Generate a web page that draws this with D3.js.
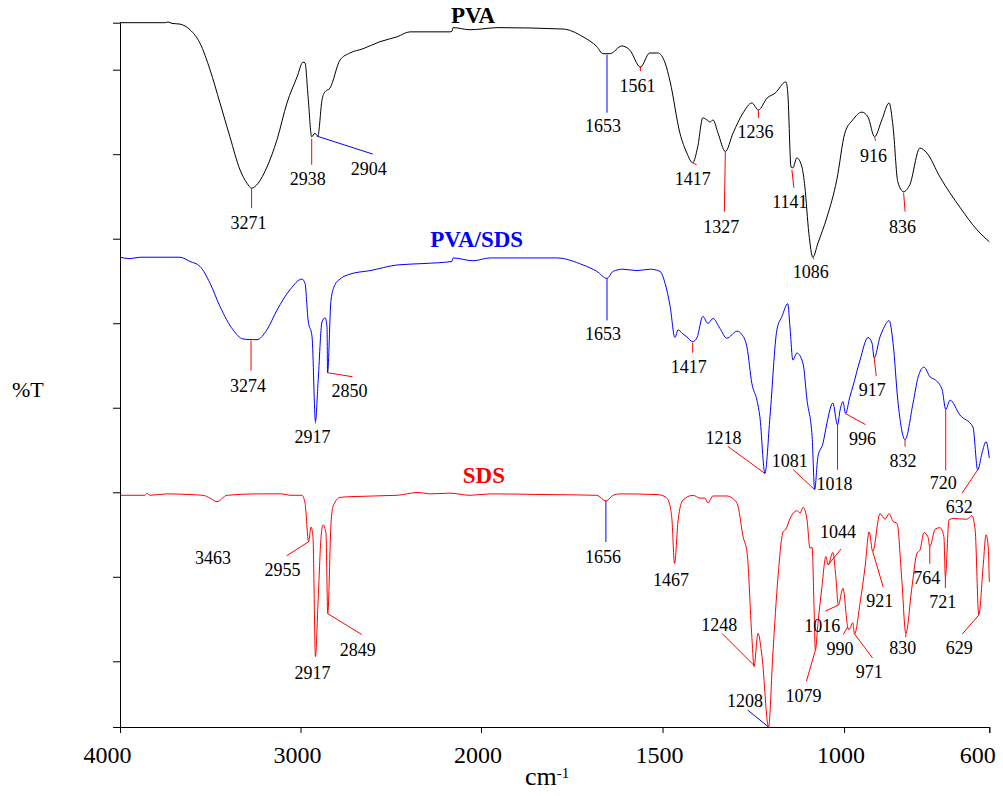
<!DOCTYPE html>
<html>
  <head>
    <meta charset="utf-8" />
    <title>FTIR spectra PVA, PVA/SDS, SDS</title>
    <script src="https://d3js.org/d3.v7.min.js"></script>
    <style>
        body{
            margin:0;
            background:#fff;
        }
        svg text{
            font-family:"Liberation Serif","Times New Roman",serif !important;
        }
    </style>
  </head>
  <body>
    <svg id="chart">
        <g id="curves"></g>
        <g id="labels"></g>
        <g id="x"></g>
        <g id="y"></g>
    </svg>

    <script>
      // spectra: [wavenumber (cm-1), %T (stacked, arbitrary offset)]
      var pvaData = [[4000,100.0],[3751,100.0],[3734,100.1],[3712,99.9],[3668,99.8],[3612,99.0],[3557,97.1],[3501,93.3],[3446,88.6],[3391,83.8],[3335,79.1],[3296,77.2],[3271,76.5],[3235,77.2],[3186,79.5],[3130,83.4],[3075,88.6],[3019,92.3],[2986,94.4],[2975,94.3],[2958,89.5],[2938,83.8],[2920,84.3],[2904,83.9],[2881,89.0],[2864,90.2],[2837,90.7],[2781,94.7],[2726,95.7],[2654,96.3],[2560,97.3],[2465,98.0],[2393,98.7],[2283,98.7],[2172,98.7],[2160,98.8],[2155,99.3],[2061,99.0],[2000,99.1],[1956,99.3],[1774,99.1],[1719,98.0],[1681,96.6],[1664,95.6],[1653,95.6],[1645,95.6],[1612,96.7],[1590,96.1],[1561,93.7],[1535,95.7],[1513,95.7],[1493,94.3],[1479,91.6],[1452,84.3],[1433,81.5],[1417,80.1],[1403,82.4],[1389,86.5],[1378,86.2],[1369,85.9],[1361,86.2],[1347,84.3],[1327,81.7],[1306,84.3],[1278,87.2],[1254,88.6],[1236,87.6],[1212,89.3],[1190,90.0],[1160,91.6],[1155,90.0],[1146,79.5],[1141,79.4],[1130,80.8],[1116,79.5],[1108,76.7],[1097,70.1],[1086,66.7],[1072,68.7],[1047,72.4],[1020,77.7],[998,84.3],[976,86.2],[951,87.3],[934,86.6],[916,83.8],[896,86.2],[876,88.6],[865,85.2],[852,77.4],[836,76.0],[819,77.0],[791,82.2],[772,81.5],[736,78.1],[681,73.8],[634,70.6],[600,68.9]];

      var pvaSdsData = [[4000,66.7],[3945,66.5],[3889,66.7],[3668,66.7],[3612,66.1],[3557,65.4],[3501,63.0],[3446,59.7],[3374,56.4],[3319,55.1],[3274,55.0],[3241,55.0],[3186,56.4],[3130,59.2],[3058,62.1],[2992,63.6],[2975,63.0],[2958,57.8],[2936,55.4],[2917,43.4],[2903,48.8],[2881,57.5],[2864,58.1],[2853,56.8],[2850,50.3],[2831,60.6],[2809,62.8],[2781,63.6],[2726,64.3],[2615,64.8],[2465,65.6],[2321,65.8],[2161,66.1],[2155,66.6],[2044,66.2],[1975,66.6],[1791,66.6],[1719,65.6],[1681,64.7],[1653,63.7],[1636,64.7],[1609,65.0],[1570,64.8],[1535,65.0],[1507,64.7],[1493,63.0],[1479,59.7],[1466,55.3],[1457,56.4],[1446,55.9],[1433,55.4],[1417,54.7],[1405,55.3],[1389,58.3],[1375,57.3],[1361,58.0],[1342,56.6],[1323,55.2],[1295,56.2],[1281,55.7],[1267,53.8],[1254,48.8],[1240,46.4],[1232,44.1],[1218,36.0],[1204,44.1],[1185,56.4],[1171,58.3],[1155,60.1],[1149,56.8],[1141,52.1],[1130,53.1],[1113,51.6],[1102,46.4],[1088,41.2],[1081,33.7],[1072,38.4],[1058,40.3],[1047,43.2],[1031,46.0],[1018,42.9],[1011,45.0],[1003,46.2],[996,44.5],[984,46.9],[976,48.3],[956,52.1],[934,55.3],[923,54.5],[917,52.4],[901,55.4],[893,56.4],[876,57.7],[865,54.5],[852,46.4],[832,40.8],[810,46.0],[796,49.7],[780,51.1],[763,49.7],[749,49.3],[730,47.9],[720,45.1],[708,46.4],[681,44.3],[645,42.6],[632,36.5],[620,38.9],[609,40.5],[600,38.2]];

      var sdsData = [[4000,32.9],[3862,32.9],[3850,33.2],[3834,32.9],[3740,33.1],[3612,33.0],[3540,32.9],[3501,32.5],[3463,32.0],[3407,32.9],[3241,33.1],[3103,33.1],[3058,32.9],[2992,32.9],[2975,31.8],[2955,26.3],[2942,28.4],[2931,27.0],[2917,10.0],[2903,17.6],[2886,27.0],[2875,28.7],[2859,27.5],[2849,16.1],[2831,28.9],[2820,31.3],[2781,32.6],[2726,32.7],[2465,32.9],[2349,33.3],[2283,33.1],[2172,33.2],[2061,32.9],[1975,33.1],[1818,33.0],[1681,32.9],[1656,32.1],[1636,32.9],[1617,33.1],[1515,33.0],[1493,32.7],[1488,32.5],[1479,31.3],[1474,29.4],[1467,23.2],[1457,29.4],[1444,32.2],[1416,32.9],[1397,32.5],[1383,32.5],[1375,31.8],[1361,32.8],[1323,32.8],[1295,31.8],[1278,27.0],[1267,24.7],[1254,12.8],[1248,8.6],[1237,13.3],[1226,10.0],[1208,0.0],[1196,10.5],[1182,21.3],[1168,27.7],[1160,28.1],[1149,29.6],[1130,30.7],[1121,30.4],[1113,31.2],[1102,29.4],[1094,25.4],[1088,25.5],[1083,17.6],[1079,10.9],[1072,14.7],[1061,19.9],[1050,24.2],[1044,23.0],[1031,24.8],[1022,20.9],[1016,17.3],[1003,19.7],[990,14.2],[987,13.8],[976,14.8],[971,13.2],[956,17.6],[942,22.8],[931,27.7],[921,24.9],[901,30.3],[887,29.5],[876,30.3],[865,29.2],[854,28.9],[841,20.9],[830,13.3],[813,19.9],[799,24.7],[791,25.1],[780,27.6],[769,27.0],[764,25.6],[749,28.1],[736,28.3],[725,27.0],[721,21.3],[711,29.4],[700,29.6],[662,29.5],[648,30.0],[639,28.0],[629,15.9],[617,22.8],[609,27.3],[603,25.6],[600,20.6]];

      var xTicks = [4000, 3000, 2000, 1500, 1000, 600];
      var yTicks = [9.33, 21.33, 33.33, 45.33, 57.33, 69.33, 81.33, 93.33];

      var pvaPeaks = [3271, 2938, 2904, 1653, 1561, 1417, 1327, 1236, 1141, 1086, 916, 836];
      var pvaSdsPeaks = [3274, 2917, 2850, 1653, 1417, 1218, 1081, 1018, 996, 917, 832, 720, 632];
      var sdsPeaks = [3463, 2955, 2917, 2849, 1656, 1467, 1248, 1208, 1079, 1044, 1016, 990, 971, 921, 830, 764, 721, 629];

      // label placement relative to the peak: leader [x1,y1,x2,y2] (px), text [dx,dy], leader colour
      var pvaLayout = {
        3271: [[0,0,0,20],[-3,41],"red"],
        2938: [[0,2,0,28],[-4,48],"red"],
        2904: [[-1,0,55,18],[51,39],"blue"],
        1653: [[0,1,0,59],[-4,78],"blue"],
        1561: [[0,-1,0,4],[-3,25],"red"],
        1417: [[0,0,4,2],[0,22],"red"],
        1327: [[0,0,-1,60],[-4,81],"red"],
        1236: [[0,0,0,8],[-3,28],"red"],
        1141: [[-1,2,1,20],[-3,40],"red"],
        1086: [[0,0,1,2],[-2,21],"red"],
        916:  [[0,0,1,4],[-1,25],"red"],
        836:  [[0,1,1.5,20],[-1,41],"red"]
      };
      var pvaSdsLayout = {
        3274: [[0,1,0,31],[-3,52],"red"],
        2917: [[0,0,0,2],[-3,22],"red"],
        2850: [[0,0,25,4],[22,24],"red"],
        1653: [[0,0,0,42],[-4,62],"blue"],
        1417: [[0,1,0,11],[-4,31],"red"],
        1218: [[0,0,-37,-27],[-41.5,-29],"red"],
        1081: [[0,0,-21.5,-20],[-25,-23],"red"],
        1018: [[0,0,0,45],[-3,65],"red"],
        996:  [[0,0,20,11],[17,31],"red"],
        917:  [[0,0,2,18],[-2,38],"red"],
        832:  [[0,0,0,7],[-2,27],"red"],
        720:  [[0,0,0,61],[-2.5,80],"red"],
        632:  [[0,0,-15.5,23],[-18.5,43],"red"]
      };
      var sdsLayout = {
        3463: [null,[-4,62],"red"],
        2955: [[0,0,-22,14],[-26,34],"red"],
        2917: [null,[-3,22.6],"red"],
        2849: [[0,0,34,21],[30,42],"red"],
        1656: [[0,0,0,41],[-3,62],"blue"],
        1467: [null,[-3.5,22],"red"],
        1248: [[1,0,-32,-33],[-34.7,-35],"red"],
        1208: [[0,0,-21,-17],[-23.6,-20],"blue"],
        1079: [[0,0,-9,31],[-12,51.7],"red"],
        1044: [[0,0,13,-16],[10,-27.3],"red"],
        1016: [[0,0,-13,6],[-16,26.7],"red"],
        990:  [[0,0,-4.5,7.5],[-7.7,28.3],"red"],
        971:  [[0,0,18,24],[14.7,44],"red"],
        921:  [[0,0,10.5,35.6],[7,55.6],"red"],
        830:  [[0,0,0,4],[-3,21],"red"],
        764:  [[0,0,0,17],[-3,37.3],"red"],
        721:  [[0,0,0,11],[-2.7,30.6],"red"],
        629:  [[0,0,-16.5,19],[-19.5,39.3],"red"]
      };

      var serif = "'Liberation Serif', 'Times New Roman', serif";
      var width = 1003;
      var height = 796;

      var svg = d3.select("#chart")
        .attr("width", width)
        .attr("height", height);

      // the wavenumber axis is expanded 2x below 2000 cm-1
      var x = d3.scaleLinear()
        .domain([4000, 2000, 600])
        .range([120, 481, 989.3]);

      var y = d3.scaleLinear()
        .domain([0, 100])
        .range([727, 22.7]);

      var series = [
        {name: "PVA", data: pvaData, color: "#000000", peaks: pvaPeaks, layout: pvaLayout, title: [2044, 100]},
        {name: "PVA/SDS", data: pvaSdsData, color: "#0000ff", peaks: pvaSdsPeaks, layout: pvaSdsLayout, title: [2024, 68.2]},
        {name: "SDS", data: sdsData, color: "#ff0000", peaks: sdsPeaks, layout: sdsLayout, title: [1992, 34.6]}
      ];

      var line = d3.line()
        .x(function(d){ return x(d[0]); })
        .y(function(d){ return y(d[1]); })
        .curve(d3.curveMonotoneX);

      svg.select("#curves").selectAll("path")
        .data(series)
        .enter().append("path")
        .attr("d", function(d){ return line(d.data); })
        .attr("fill", "none")
        .attr("stroke", function(d){ return d.color; })
        .attr("stroke-width", 1);

      // titles
      svg.select("#labels").selectAll(".title")
        .data(series)
        .enter().append("text")
        .attr("class", "title")
        .attr("x", function(d){ return x(d.title[0]); })
        .attr("y", function(d){ return y(d.title[1]); })
        .attr("text-anchor", "middle")
        .style("font-family", serif)
        .attr("font-size", 23)
        .attr("font-weight", "bold")
        .attr("fill", function(d){ return d.color; })
        .text(function(d){ return d.name; });

      function nearest(data, w) {
        var best = data[0];
        data.forEach(function(p){
          if (Math.abs(p[0] - w) < Math.abs(best[0] - w)) best = p;
        });
        return best;
      }

      var peakGroup = svg.select("#labels");
      series.forEach(function(s){
        s.peaks.forEach(function(w){
          var p = nearest(s.data, w);
          var ax = x(p[0]), ay = y(p[1]);
          var lay = s.layout[w];
          if (lay[0]) {
            peakGroup.append("line")
              .attr("x1", ax + lay[0][0])
              .attr("y1", ay + lay[0][1])
              .attr("x2", ax + lay[0][2])
              .attr("y2", ay + lay[0][3])
              .attr("stroke", lay[2])
              .attr("stroke-width", 1);
          }
          peakGroup.append("text")
            .attr("x", ax + lay[1][0])
            .attr("y", ay + lay[1][1])
            .attr("text-anchor", "middle")
            .style("font-family", serif)
            .attr("font-size", 18)
            .attr("fill", "#000")
            .text(w);
        });
      });

      // axes
      var xAxis = d3.axisBottom(x)
        .tickValues(xTicks)
        .tickSize(6)
        .tickSizeOuter(6)
        .tickPadding(13)
        .tickFormat(d3.format("d"));
      svg.select("#x")
        .attr("transform", "translate(0," + y(0) + ")")
        .call(xAxis)
        .attr("font-size", 24);
      svg.selectAll("#x text")
        .style("font-family", serif)
        .attr("fill", "#000")
        .attr("dx", function(d){
          if (d === 4000) return -13;
          if (d === 600) return -12;
          return -3.5;
        });

      var yAxis = d3.axisLeft(y)
        .tickValues(yTicks)
        .tickSize(7)
        .tickSizeOuter(7)
        .tickFormat(function(){ return ""; });
      svg.select("#y")
        .attr("transform", "translate(" + x(4000) + ",0)")
        .call(yAxis);

      svg.selectAll("#x path, #x line, #y path, #y line").attr("stroke", "#000");

      svg.append("text")
        .attr("x", 12)
        .attr("y", 396.7)
        .style("font-family", serif)
        .attr("font-size", 22)
        .text("%T");

      var xt = svg.append("text")
        .attr("x", 525)
        .attr("y", 785)
        .style("font-family", serif)
        .attr("font-size", 26)
        .text("cm");
      xt.append("tspan")
        .attr("font-size", 15)
        .attr("dy", -7)
        .text("-1");
    </script>
  </body>
</html>
